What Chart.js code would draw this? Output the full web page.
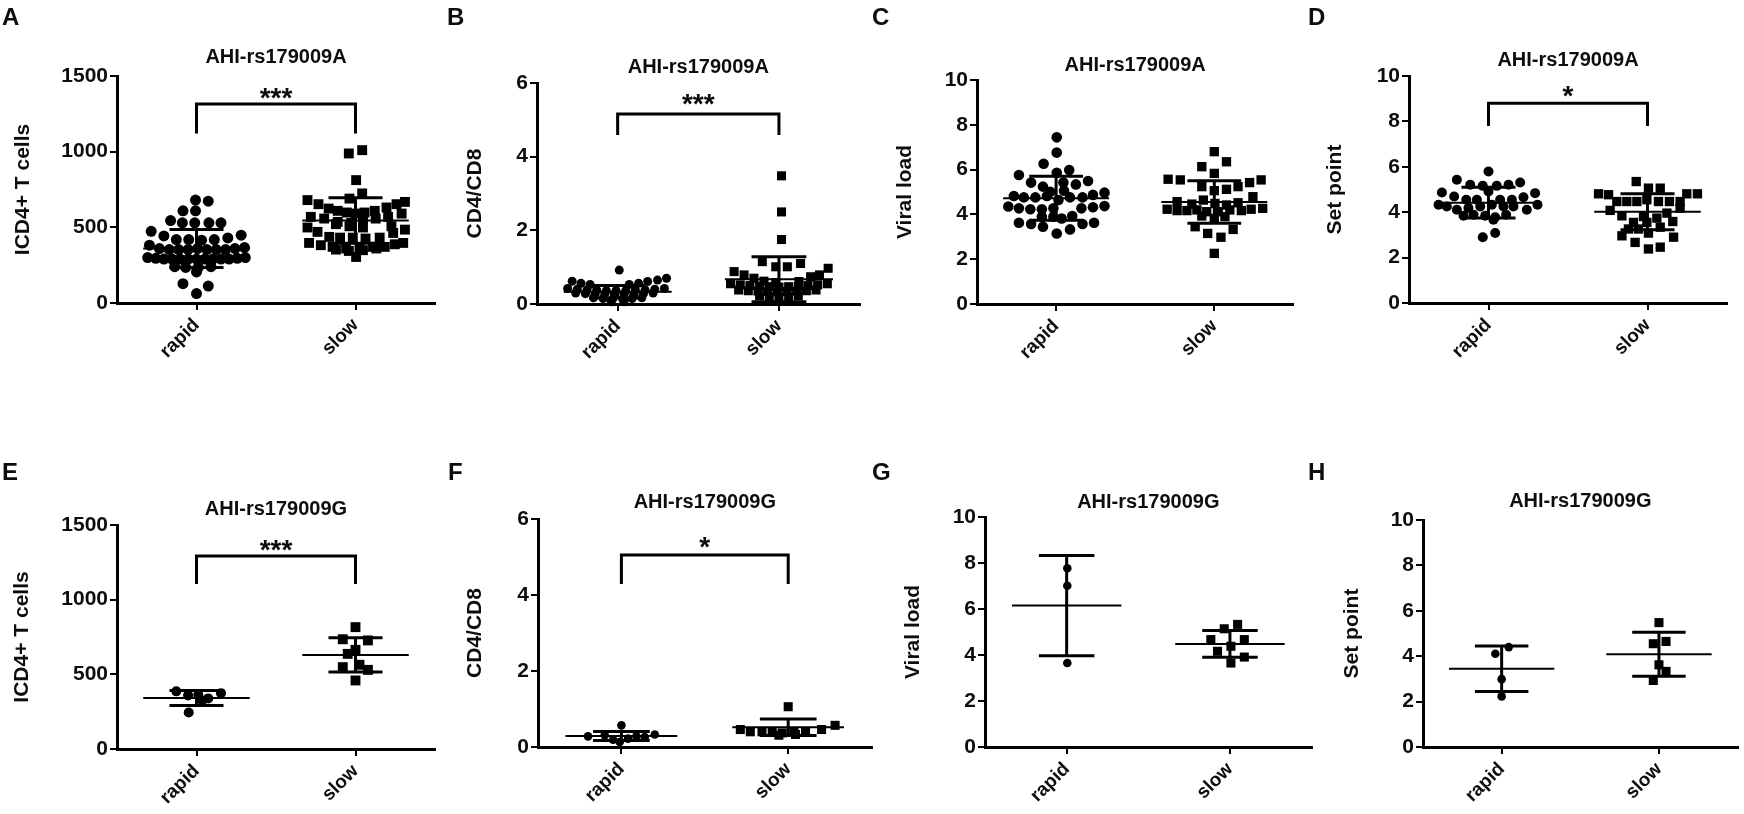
<!DOCTYPE html>
<html><head><meta charset="utf-8">
<script src="https://cdn.jsdelivr.net/npm/chart.js@4.4.1/dist/chart.umd.min.js"></script>
<style>
html,body{margin:0;padding:0;background:#fff;width:1744px;height:814px;overflow:hidden;position:relative;}
canvas{position:absolute;}
</style></head><body>
<script>
// ---------------- DATA ----------------
const categories = ['rapid', 'slow'];
const ticksCD4 = [0, 500, 1000, 1500];
const ticksRatio = [0, 2, 4, 6];
const ticksLoad = [0, 2, 4, 6, 8, 10];

// A: AHI-rs179009A, ICD4+ T cells
const aRapid = [680,673, 609,609, 545,530,530,530,530, 474,443,419,419,415,419,430,448, 382,360,353,353,353,360,353,353,353,360,366, 300,295,290,290,290,290,290,290,290,290,290,295,300, 240,235,235,240, 205, 128,112,62];
const aRapidJitter = [-0.006,0.074, -0.085,-0.006, -0.163,-0.089,-0.011,0.078,0.154, -0.285,-0.205,-0.127,-0.049,0.032,0.112,0.197,0.281, -0.296,-0.233,-0.171,-0.112,-0.053,0.006,0.065,0.124,0.183,0.242,0.302, -0.307,-0.256,-0.205,-0.154,-0.103,-0.052,0,0.052,0.103,0.154,0.205,0.256,0.307, -0.137,-0.068,0.011,0.091, 0, -0.085,0.074,0];
const aSlow = [988,1010, 812, 724,690, 680,653,624,609,598,591,598,609,631,653,668, 569,558,536,529,547,558,569,591, 499,521,507,499,507,485, 470,437,432,432,426,432,463, 397,382,371,360,360,371,371,388,397, 353,344,349,360, 304];
const aSlowJitter = [-0.042,0.042, 0.004, 0.042,-0.038, -0.302,-0.233,-0.169,-0.112,-0.055,0,0.057,0.121,0.195,0.258,0.311, -0.281,-0.197,-0.112,-0.027,0.047,0.127,0.205,0.29, -0.302,-0.123,-0.038,0.047,0.226,0.311, -0.239,-0.165,-0.097,-0.017,0.063,0.152,0.237, -0.292,-0.218,-0.144,-0.059,0.025,0.11,0.184,0.247,0.3, -0.123,-0.042,0.047,0.131, 0.004];
const aMeanSD = [[360,125],[545,150]];

// B: AHI-rs179009A, CD4/CD8
const bRapid = [0.92, 0.62,0.56,0.53,0.53,0.56,0.61,0.65,0.70, 0.42,0.40,0.38,0.38,0.36,0.36,0.36,0.38,0.38,0.40,0.42, 0.30,0.28,0.27,0.27,0.26,0.27,0.27,0.28,0.30, 0.17,0.15,0.14,0.14,0.15,0.17, 0.06,0.06];
const bRapidJitter = [0.01, -0.282,-0.227,-0.171,0.072,0.13,0.186,0.247,0.303, -0.31,-0.25,-0.19,-0.13,-0.07,-0.01,0.05,0.11,0.17,0.23,0.29, -0.26,-0.2,-0.14,-0.08,-0.02,0.04,0.1,0.16,0.22, -0.15,-0.09,-0.03,0.03,0.09,0.15, -0.04,0.04];
const bSlow = [3.48,2.50,1.75, 1.15,1.01,1.01,1.10,0.97, 0.88,0.79,0.70,0.62,0.58,0.61,0.74,0.79, 0.55,0.52,0.50,0.48,0.47,0.46,0.47,0.48,0.50,0.52,0.55, 0.38,0.36,0.35,0.34,0.33,0.34,0.35,0.36,0.38, 0.22,0.20,0.19,0.20,0.22];
const bSlowJitter = [0.016,0.016,0.016, -0.103,-0.02,0.052,0.134,0.305, -0.278,-0.216,-0.155,-0.093,-0.02,0.124,0.196,0.251, -0.3,-0.24,-0.18,-0.12,-0.06,0,0.06,0.12,0.18,0.24,0.3, -0.25,-0.19,-0.13,-0.07,-0.01,0.05,0.11,0.17,0.23, -0.12,-0.06,0,0.06,0.12];
const bMeanSD = [[0.33,0.17],[0.67,0.61]];

// C: AHI-rs179009A, Viral load
const cRapid = [7.44,6.76,6.26, 5.76,5.86,5.98, 5.42,5.24,5.42,5.34,5.49, 5.01,5.06, 4.82,4.76,4.76,4.82,4.64,4.76,4.76,4.87,4.97, 4.35,4.27,4.23,4.23,4.27,4.27,4.32,4.37, 3.90,3.90,3.82,3.93, 3.63,3.57,3.45,3.33,3.57,3.63, 3.15];
const cRapidJitter = [0.004,0.004,-0.079, -0.235,0.004,0.083, -0.158,-0.083,0.046,0.125,0.202, -0.037,0.05, -0.267,-0.204,-0.131,-0.058,0.015,0.088,0.167,0.233,0.306, -0.302,-0.235,-0.163,-0.09,-0.017,0.16,0.233,0.306, -0.09,-0.017,0.035,0.102, -0.235,-0.158,-0.083,0.088,0.167,0.24, 0.004];
const cSlow = [6.80,6.13,6.35,5.83, 5.57,5.54,5.42,5.54, 5.24,5.06,5.12,5.24, 4.79, 4.57,4.46,4.64,4.49,4.42,4.52, 4.23,4.17,4.17,4.20,4.12,4.12,4.20,4.17,4.23,4.27, 3.93,3.82,3.90, 3.45,3.33, 3.15,2.98, 2.26];
const cSlowJitter = [0,-0.079,0.077,0, -0.292,-0.215,0.223,0.296, -0.079,0,0.077,0.15, 0.244, -0.235,-0.142,-0.069,0.004,0.077,0.15, -0.298,-0.235,-0.173,-0.11,-0.048,0.025,0.098,0.171,0.233,0.306, -0.079,0,0.067, -0.121,0.119, -0.042,0.042, 0];
const cMeanSD = [[4.72,0.98],[4.55,0.95]];

// D: AHI-rs179009A, Set point
const dRapid = [5.79, 5.43,5.21,5.16,5.16,5.21,5.31, 4.87,4.69,4.55,4.55,4.91,4.55,4.55,4.66,4.84, 4.33,4.25,4.11,4.18,4.25,4.33,4.25,4.25,4.11,4.33, 3.84,3.89,3.84,3.78,3.89, 3.67, 2.90,3.08];
const dRapidJitter = [0, -0.199,-0.115,-0.036,0.052,0.126,0.199, -0.293,-0.216,-0.14,-0.073,0,0.073,0.147,0.22,0.293, -0.314,-0.262,-0.199,-0.126,-0.052,0.021,0.094,0.157,0.241,0.308, -0.157,-0.094,-0.021,0.042,0.111, 0.031, -0.036,0.042];
const dSlow = [5.35,5.06,5.06, 4.81,4.77,4.81,4.81, 4.47,4.47,4.47,4.55,4.47,4.47,4.47, 4.18,4.08, 3.84,3.81,3.74,3.96, 3.55,3.55,3.59, 3.26,3.26,3.34, 2.96,3.08,2.90, 2.67,2.46,2.38];
const dSlowJitter = [-0.071,0.006,0.08, -0.308,-0.245,0.247,0.314, -0.193,-0.13,-0.067,-0.004,0.069,0.138,0.205, 0.205,-0.235, -0.161,-0.025,0.059,0.122, -0.088,-0.004,0.159, -0.12,-0.057,0.08, -0.161,0.006,0.164, -0.078,0.08,0.006];
const dMeanSD = [[4.42,0.68],[4.02,0.79]];

// E: AHI-rs179009G, ICD4+ T cells
const eRapid = [386,359,363,339,374,325,245];
const eRapidJitter = [-0.127,-0.053,0.011,0.074,0.154,0.036,-0.049];
const eSlow = [816,735,727,664,637,548,564,530,459];
const eSlowJitter = [0,-0.08,0.078,0,-0.049,-0.08,0.025,0.078,0];
const eMeanSD = [[341,50],[630,115]];

// F: AHI-rs179009G, CD4/CD8
const fRapid = [0.28,0.31,0.19,0.57,0.22,0.28,0.26,0.33,0.13];
const fRapidJitter = [-0.2,-0.1,-0.05,0,0.04,0.09,0.14,0.2,-0.01];
const fSlow = [1.06,0.46,0.40,0.40,0.40,0.37,0.40,0.40,0.46,0.57,0.31,0.33];
const fSlowJitter = [0,-0.287,-0.227,-0.157,-0.096,-0.036,0.034,0.104,0.2,0.281,-0.056,0.044];
const fMeanSD = [[0.29,0.12],[0.52,0.22]];

// G: AHI-rs179009G, Viral load
const gRapid = [7.77,7.01,3.65];
const gRapidJitter = [0.004,0.004,0.004];
const gSlow = [5.33,5.14,4.67,4.67,4.38,4.16,3.91,3.65];
const gSlowJitter = [0.047,-0.035,-0.117,0.088,0.006,-0.076,0.088,0.006];
const gMeanSD = [[6.15,2.18],[4.48,0.58]];

// H: AHI-rs179009G, Set point
const hRapid = [4.40,4.11,2.99,2.23];
const hRapidJitter = [0.045,-0.04,0,0];
const hSlow = [5.48,4.55,4.65,3.62,3.33,2.93];
const hSlowJitter = [0,-0.036,0.045,0,0.045,-0.036];
const hMeanSD = [[3.45,1.0],[4.09,0.97]];

// ---------------- LAYOUT / STYLE ----------------
const FONT = "'Liberation Sans', Arial, Helvetica, sans-serif";
const INK = '#0d0d0d';

const panels = [
  {letter:'A', lx:2, ly:25, cx:0, cy:0, cw:442, ch:400, plot:[117,76,437,303], ticks:ticksCD4, title:'AHI-rs179009A', tGap:19, yTitle:'ICD4+ T cells', yGap:94,
   rapid:aRapid, rj:aRapidJitter, slow:aSlow, sj:aSlowJitter, stats:aMeanSD, r:5.5, sq:7, stars:'***', starY:1401, bracket:[1120,1315]},
  {letter:'B', lx:7, ly:25, cx:440, cy:0, cw:426, ch:400, plot:[537,83,861,304], ticks:ticksRatio, title:'AHI-rs179009A', tGap:16, yTitle:'CD4/CD8', yGap:62,
   rapid:bRapid, rj:bRapidJitter, slow:bSlow, sj:bSlowJitter, stats:bMeanSD, r:4.5, sq:6.4, stars:'***', starY:5.62, bracket:[4.59,5.16]},
  {letter:'C', lx:4, ly:25, cx:868, cy:0, cw:432, ch:400, plot:[977,80,1296,304], ticks:ticksLoad, title:'AHI-rs179009A', tGap:15, yTitle:'Viral load', yGap:72,
   rapid:cRapid, rj:cRapidJitter, slow:cSlow, sj:cSlowJitter, stats:cMeanSD, r:5.3, sq:6.6},
  {letter:'D', lx:6, ly:25, cx:1302, cy:0, cw:442, ch:400, plot:[1409,76,1727,303], ticks:ticksLoad, title:'AHI-rs179009A', tGap:16, yTitle:'Set point', yGap:74,
   rapid:dRapid, rj:dRapidJitter, slow:dSlow, sj:dSlowJitter, stats:dMeanSD, r:5, sq:6.6, stars:'*', starY:9.43, bracket:[7.8,8.8]},
  {letter:'E', lx:2, ly:50, cx:0, cy:430, cw:442, ch:384, plot:[117,525,437,749], ticks:ticksCD4, title:'AHI-rs179009G', tGap:16, yTitle:'ICD4+ T cells', yGap:95,
   rapid:eRapid, rj:eRapidJitter, slow:eSlow, sj:eSlowJitter, stats:eMeanSD, r:5, sq:7, stars:'***', starY:1380, bracket:[1105,1293]},
  {letter:'F', lx:8, ly:50, cx:440, cy:430, cw:438, ch:384, plot:[538,519,875,747], ticks:ticksRatio, title:'AHI-rs179009G', tGap:17, yTitle:'CD4/CD8', yGap:63,
   rapid:fRapid, rj:fRapidJitter, slow:fSlow, sj:fSlowJitter, stats:fMeanSD, r:4.3, sq:6.4, stars:'*', starY:5.45, bracket:[4.29,5.05]},
  {letter:'G', lx:4, ly:50, cx:868, cy:430, cw:450, ch:384, plot:[985,517,1315,747], ticks:ticksLoad, title:'AHI-rs179009G', tGap:15, yTitle:'Viral load', yGap:72,
   rapid:gRapid, rj:gRapidJitter, slow:gSlow, sj:gSlowJitter, stats:gMeanSD, r:4.3, sq:6.4},
  {letter:'H', lx:6, ly:50, cx:1302, cy:430, cw:442, ch:384, plot:[1423,520,1738,747], ticks:ticksLoad, title:'AHI-rs179009G', tGap:19, yTitle:'Set point', yGap:71,
   rapid:hRapid, rj:hRapidJitter, slow:hSlow, sj:hSlowJitter, stats:hMeanSD, r:4.3, sq:6.4}
];

function toPoints(vals, jit, center) { return vals.map((v, i) => ({x: center + jit[i], y: v})); }
function lineDS(data, w) {
  return {data, showLine:true, borderColor:'#000', backgroundColor:'#000', borderWidth:w, pointRadius:0, pointHoverRadius:0,
          fill:false, tension:0, borderCapStyle:'butt', borderJoinStyle:'miter', clip:false};
}
function statDS(c, ms) {
  const m = ms[0], s = ms[1];
  return [
    lineDS([{x:c-0.335, y:m}, {x:c+0.335, y:m}], 2),
    lineDS([{x:c, y:m-s}, {x:c, y:m+s}], 3),
    lineDS([{x:c-0.17, y:m+s}, {x:c+0.17, y:m+s}], 3),
    lineDS([{x:c-0.17, y:m-s}, {x:c+0.17, y:m-s}], 3)
  ];
}

const deco = {
  id: 'deco',
  afterDraw(chart, args, o) {
    const {ctx, chartArea: ca, scales} = chart;
    ctx.save();
    ctx.fillStyle = INK;
    ctx.font = `bold 24px ${FONT}`;
    ctx.textAlign = 'left'; ctx.textBaseline = 'alphabetic';
    ctx.fillText(o.letter, o.lx, o.ly);
    ctx.font = `bold 20px ${FONT}`;
    ctx.textAlign = 'center'; ctx.textBaseline = 'middle';
    ctx.fillText(o.title, (ca.left + ca.right) / 2, ca.top - o.tGap);
    ctx.save();
    ctx.translate(ca.left - o.yGap, (ca.top + ca.bottom) / 2);
    ctx.rotate(-Math.PI / 2);
    ctx.font = `bold 21px ${FONT}`;
    ctx.fillText(o.yTitle, 0, 0);
    ctx.restore();
    if (o.stars) {
      const fs = 28;
      ctx.font = `bold ${fs}px ${FONT}`;
      ctx.textBaseline = 'alphabetic';
      ctx.fillText(o.stars, scales.x.getPixelForValue(0.5), scales.y.getPixelForValue(o.starY) + 0.585 * fs);
    }
    ctx.restore();
  }
};

function axisCommon() {
  return {
    grid: {drawOnChartArea:false, drawTicks:true, tickLength:7, color:'#000', lineWidth:2},
    border: {display:true, color:'#000', width:3}
  };
}

panels.forEach(p => {
  const cv = document.createElement('canvas');
  cv.width = p.cw; cv.height = p.ch;
  cv.style.left = p.cx + 'px'; cv.style.top = p.cy + 'px';
  cv.style.width = p.cw + 'px'; cv.style.height = p.ch + 'px';
  document.body.appendChild(cv);
  const [L, T, R, B] = p.plot;
  const datasets = [
    {data: toPoints(p.rapid, p.rj, 0), pointStyle:'circle', pointRadius:p.r, pointHoverRadius:p.r, backgroundColor:'#000', borderWidth:0, showLine:false, clip:false},
    {data: toPoints(p.slow, p.sj, 1), pointStyle:'rect', pointRadius:p.sq, pointHoverRadius:p.sq, backgroundColor:'#000', borderWidth:0, showLine:false, clip:false},
    ...statDS(0, p.stats[0]),
    ...statDS(1, p.stats[1])
  ];
  if (p.bracket) {
    const [b0, b1] = p.bracket;
    datasets.push(lineDS([{x:0, y:b0}, {x:0, y:b1}, {x:1, y:b1}, {x:1, y:b0}], 3));
  }
  const xAx = Object.assign(axisCommon(), {
    type:'linear', min:-0.5, max:1.5,
    afterBuildTicks: s => { s.ticks = [{value:0}, {value:1}]; },
    afterFit: s => { s.height = p.cy + p.ch - B; },
    ticks: {callback: (v, i) => categories[i], font:{family:FONT, size:19, weight:'bold'}, color:INK,
            minRotation:45, maxRotation:45, padding:4, autoSkip:false}
  });
  const yAx = Object.assign(axisCommon(), {
    type:'linear', min:0, max:p.ticks[p.ticks.length - 1],
    afterBuildTicks: s => { s.ticks = p.ticks.map(v => ({value:v})); },
    afterFit: s => { s.width = L - p.cx; },
    ticks: {callback: v => String(v), font:{family:FONT, size:21, weight:'bold'}, color:INK, padding:2}
  });
  new Chart(cv, {
    type: 'scatter',
    data: {datasets},
    options: {
      responsive:false, animation:false, events:[],
      layout: {padding: {left:0, top:T - p.cy, right:p.cx + p.cw - R, bottom:0}},
      plugins: {
        legend:{display:false}, tooltip:{enabled:false},
        deco: {letter:p.letter, lx:p.lx, ly:p.ly, title:p.title, tGap:p.tGap, yTitle:p.yTitle, yGap:p.yGap, stars:p.stars, starY:p.starY}
      },
      scales: {x: xAx, y: yAx}
    },
    plugins: [deco]
  });
});
</script>
</body></html>
